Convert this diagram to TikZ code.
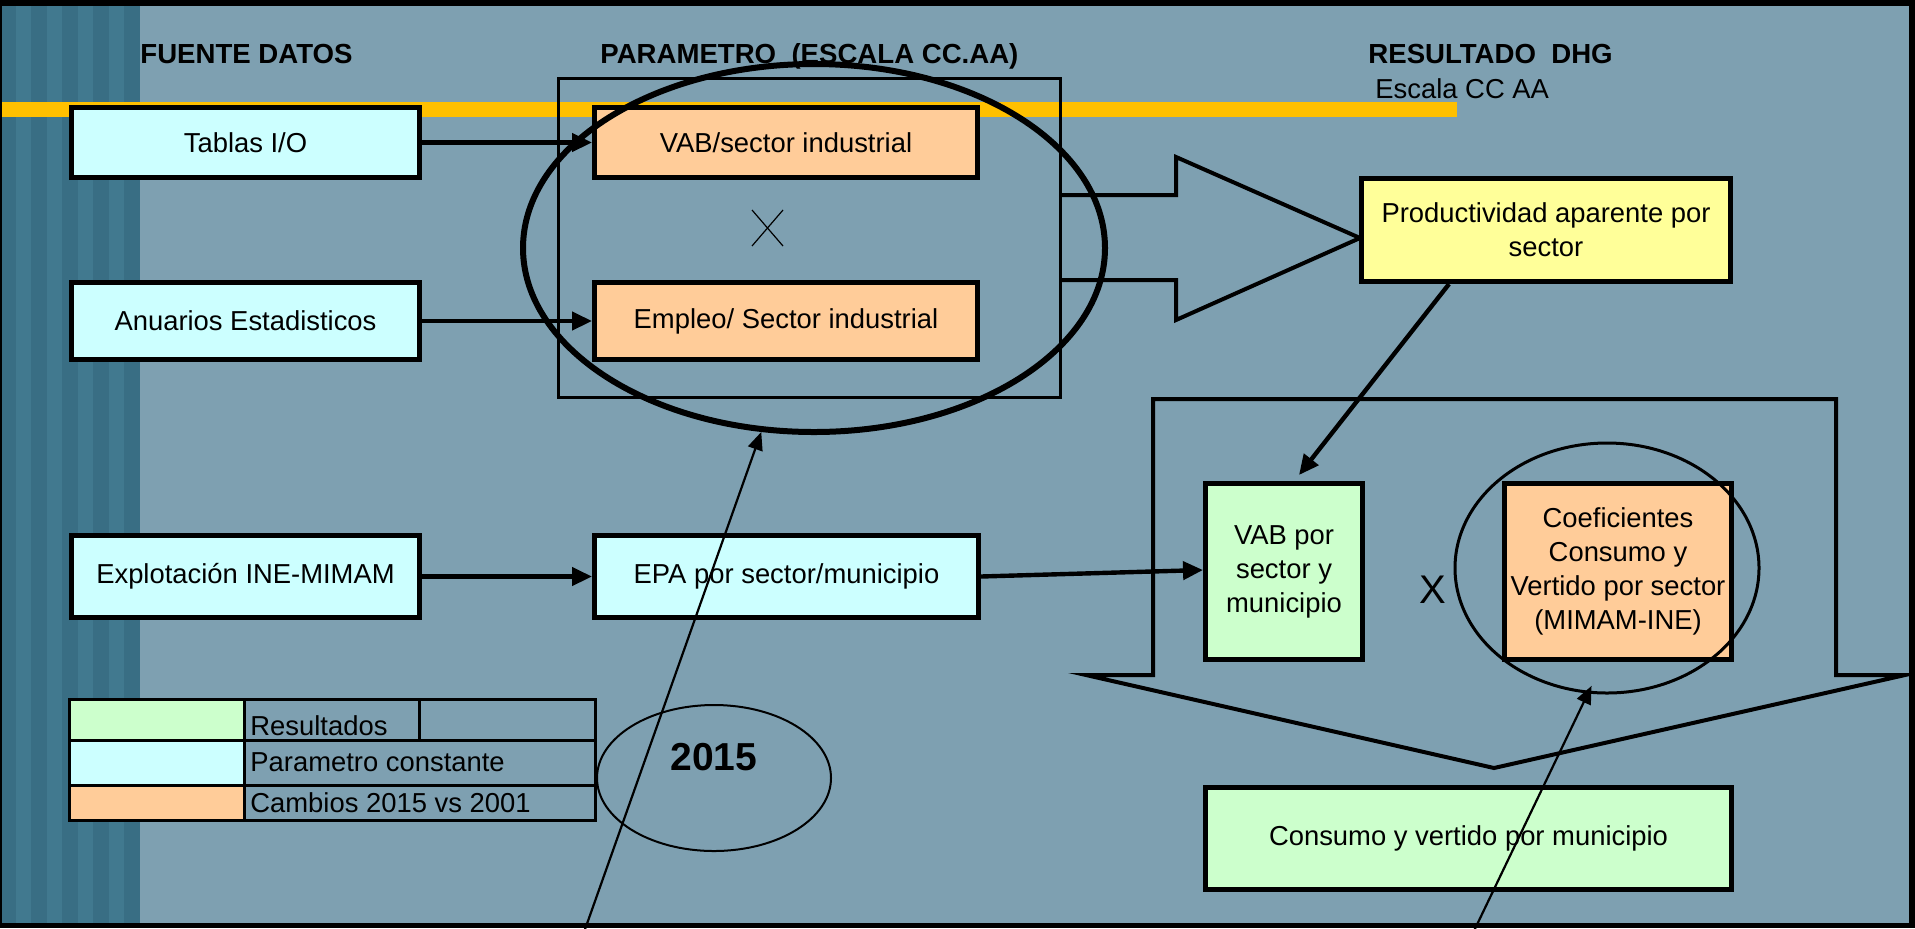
\documentclass[tikz,border=0pt]{standalone}
\usepackage{fontspec}
\setmainfont{Liberation Sans}
\usetikzlibrary{arrows.meta,shapes.geometric}
\definecolor{bgc}{RGB}{126,160,177}
\definecolor{stripeA}{RGB}{57,110,132}
\definecolor{stripeB}{RGB}{65,121,143}
\definecolor{bandyel}{RGB}{255,192,0}
\definecolor{lcyan}{RGB}{204,255,255}
\definecolor{peach}{RGB}{255,204,153}
\definecolor{lgreen}{RGB}{204,255,204}
\definecolor{lyellow}{RGB}{255,255,153}
\newcommand{\bodyfont}{\fontsize{13.7pt}{17pt}\selectfont}
\newcommand{\titlefont}{\fontsize{13.8pt}{17pt}\selectfont\bfseries}
\begin{document}
\begin{tikzpicture}[x=0.5pt,y=-0.5pt,
 boxst/.style={draw=black,line width=2.5pt,inner sep=0pt,align=center,font=\bodyfont},
 thickarrow/.style={line width=2.2pt,-{Triangle[length=10pt,width=9pt]}},
 thinarrow/.style={line width=1.1pt,-{Triangle[length=9pt,width=7.5pt]}},
 blockarrow/.style={line width=2pt,line join=miter},
 ringst/.style={draw=black,ellipse,inner sep=0pt},
 titlest/.style={font=\titlefont,inner sep=0pt,anchor=base west},
 labelst/.style={font=\bodyfont,inner sep=0pt,anchor=base west}]
\useasboundingbox (0,0) rectangle (1915,928);
% background
\fill[bgc] (0,0) rectangle (1915,928);
\fill[stripeA] (0,0) rectangle (15.6,928);
\fill[stripeB] (15.6,0) rectangle (31.1,928);
\fill[stripeA] (31.1,0) rectangle (46.7,928);
\fill[stripeB] (46.7,0) rectangle (62.2,928);
\fill[stripeA] (62.2,0) rectangle (77.8,928);
\fill[stripeB] (77.8,0) rectangle (93.3,928);
\fill[stripeA] (93.3,0) rectangle (108.9,928);
\fill[stripeB] (108.9,0) rectangle (124.4,928);
\fill[stripeA] (124.4,0) rectangle (140,928);
\fill[bandyel] (0,102) rectangle (1457,117);
% titles
\node[titlest] (t1) at (140,63) {FUENTE DATOS};
\node[titlest] (t2) at (600,63) {PARAMETRO\ \ (ESCALA CC.AA)};
\node[titlest] (t3) at (1368,63) {RESULTADO\ \ DHG};
\node[labelst] (t4) at (1375,98) {Escala CC AA};
% frame and block arrows
\node[draw=black,line width=1.5pt,inner sep=0pt,minimum width=251pt,minimum height=159.5pt] (frame) at (809.5,238) {};
\draw[blockarrow] (1062,195) -- (1176,195) -- (1176,157) -- (1360,238) -- (1176,320) -- (1176,280) -- (1062,280);
\draw[blockarrow] (1086,675) -- (1153,675) -- (1153,399) -- (1836,399) -- (1836,675) -- (1905,675) -- (1494,768) -- cycle;
% boxes
\node[boxst,fill=lcyan,minimum width=174pt,minimum height=35pt] (tablas) at (245.5,142.5) {Tablas I/O};
\node[boxst,fill=lcyan,minimum width=174pt,minimum height=38.5pt] (anuarios) at (245.5,321) {Anuarios Estadisticos};
\node[boxst,fill=peach,minimum width=191.5pt,minimum height=35pt] (vab) at (786,142.5) {VAB/sector industrial};
\node[boxst,fill=peach,minimum width=191.5pt,minimum height=38.5pt] (empleo) at (786,321) {Empleo/ Sector industrial};
\node[boxst,fill=lcyan,minimum width=174pt,minimum height=41pt] (explot) at (245.5,576.5) {Explotación INE-MIMAM};
\node[boxst,fill=lcyan,minimum width=192pt,minimum height=41pt] (epa) at (786.5,576.5) {EPA por sector/municipio};
\node[boxst,fill=lyellow,minimum width=184.5pt,minimum height=51.5pt] (prod) at (1546,230) {Productividad aparente por\\sector};
\node[boxst,fill=lgreen,minimum width=78.5pt,minimum height=88pt] (vabpor) at (1284,571.5) {VAB por\\sector y\\municipio};
\node[boxst,fill=peach,minimum width=113.5pt,minimum height=88pt] (coef) at (1618,571.5) {Coeficientes\\Consumo y\\Vertido por sector\\(MIMAM-INE)};
\node[boxst,fill=lgreen,minimum width=263pt,minimum height=51pt] (consumo) at (1468.5,838.5) {Consumo y vertido por municipio};
% multiplication signs
\draw[line width=0.6pt] (752,210) -- (783,246) (783,210) -- (752,246);
\node[font=\fontsize{20pt}{20pt}\selectfont,inner sep=0pt] (mult) at (1433,590) {X};
% legend
\fill[lgreen] (69,699) rectangle (244,740);
\fill[lcyan] (69,740) rectangle (244,785);
\fill[peach] (69,785) rectangle (244,820);
\draw[line width=1.5pt] (69,699) rectangle (595,820);
\draw[line width=1.5pt] (69,740) -- (595,740) (69,785) -- (595,785) (244,699) -- (244,820) (419,699) -- (419,740);
\node[labelst] (l1) at (250,735) {Resultados};
\node[labelst] (l2) at (250,771) {Parametro constante};
\node[labelst] (l3) at (250,812) {Cambios 2015 vs 2001};
% connectors
\draw[thickarrow] (tablas.east) -- (vab.west);
\draw[thickarrow] (anuarios.east) -- (empleo.west);
\draw[thickarrow] (explot.east) -- (epa.west);
\draw[thickarrow] (epa.east) -- ([yshift=0.75pt]vabpor.west);
\draw[thickarrow] ([xshift=-48.5pt]prod.south) -- ([xshift=7.5pt,yshift=3pt]vabpor.north);
% ellipses
\node[ringst,line width=3pt,minimum width=291pt,minimum height=184pt] (bigell) at (814,248) {};
\node[ringst,line width=1.5pt,minimum width=152pt,minimum height=125pt] (coefell) at (1607,568) {};
\node[ringst,line width=1pt,minimum width=117pt,minimum height=73pt] (yrell) at (714,778) {};
\node[font=\fontsize{19.5pt}{20pt}\selectfont\bfseries,inner sep=0pt] (yr) at (714,757) {2015};
% thin arrows
\coordinate (s1) at (583,935);
\coordinate (s2) at (1472,935);
\draw[thinarrow] (s1) -- (bigell.-106);
\draw[thinarrow] (s2) -- ([yshift=4pt]coefell.-97);
% black border
\fill[black] (0,0) rectangle (1915,6);
\fill[black] (0,923) rectangle (1915,928);
\fill[black] (1909,0) rectangle (1915,928);
\fill[black] (0,0) rectangle (2,928);
\end{tikzpicture}
\end{document}
